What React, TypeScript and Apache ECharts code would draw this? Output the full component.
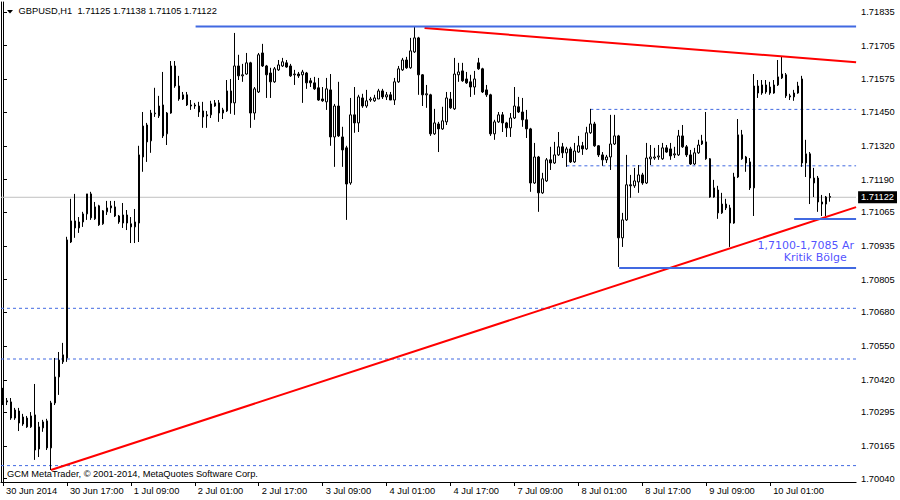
import React, { useEffect, useRef } from 'react';
import * as echarts from 'echarts';

// ---- OHLC data (GBPUSD H1, 30 Jun 2014 01:00 -> 10 Jul 2014 16:00) ----
const opens = [
  1.70373, 1.70339, 1.70335, 1.70304, 1.70300, 1.70250, 1.70273, 1.70239, 1.70285, 1.70154,
  1.70235, 1.70262, 1.70158, 1.70331, 1.70431, 1.70489, 1.70504, 1.70950, 1.71031, 1.71004,
  1.71027, 1.71058, 1.71135, 1.71039, 1.71089, 1.71020, 1.71066, 1.71081, 1.71085, 1.71050,
  1.71023, 1.71054, 1.71020, 1.71008, 1.71023, 1.71277, 1.71400, 1.71339, 1.71443, 1.71435,
  1.71477, 1.71366, 1.71446, 1.71627, 1.71550, 1.71500, 1.71516, 1.71477, 1.71473, 1.71473,
  1.71454, 1.71439, 1.71439, 1.71473, 1.71485, 1.71446, 1.71454, 1.71531, 1.71485, 1.71627,
  1.71589, 1.71596, 1.71639, 1.71446, 1.71527, 1.71677, 1.71627, 1.71600, 1.71566, 1.71612,
  1.71627, 1.71639, 1.71627, 1.71593, 1.71596, 1.71593, 1.71600, 1.71570, 1.71562, 1.71543,
  1.71500, 1.71489, 1.71535, 1.71354, 1.71473, 1.71354, 1.71312, 1.71177, 1.71439, 1.71408,
  1.71504, 1.71473, 1.71496, 1.71493, 1.71500, 1.71531, 1.71508, 1.71516, 1.71496, 1.71566,
  1.71612, 1.71650, 1.71620, 1.71681, 1.71735, 1.71593, 1.71516, 1.71516, 1.71366, 1.71404,
  1.71385, 1.71412, 1.71500, 1.71462, 1.71593, 1.71608, 1.71577, 1.71566, 1.71546, 1.71639,
  1.71616, 1.71535, 1.71516, 1.71366, 1.71412, 1.71439, 1.71408, 1.71389, 1.71427, 1.71470,
  1.71450, 1.71420, 1.71385, 1.71177, 1.71277, 1.71139, 1.71185, 1.71266, 1.71254, 1.71285,
  1.71316, 1.71293, 1.71308, 1.71258, 1.71296, 1.71320, 1.71308, 1.71370, 1.71404, 1.71320,
  1.71285, 1.71266, 1.71277, 1.71327, 1.71358, 1.70966, 1.71035, 1.71170, 1.71166, 1.71181,
  1.71208, 1.71177, 1.71270, 1.71273, 1.71277, 1.71270, 1.71312, 1.71308, 1.71285, 1.71285,
  1.71358, 1.71316, 1.71285, 1.71250, 1.71293, 1.71327, 1.71335, 1.71270, 1.71123, 1.71150,
  1.71062, 1.71096, 1.71081, 1.71023, 1.71200, 1.71362, 1.71277, 1.71258, 1.71158, 1.71550,
  1.71523, 1.71554, 1.71546, 1.71523, 1.71554, 1.71581, 1.71593, 1.71512, 1.71508, 1.71523,
  1.71577, 1.71254, 1.71289, 1.71177, 1.71196, 1.71096, 1.71096, 1.71125,
];
const highs = [
  1.70389, 1.70350, 1.70350, 1.70312, 1.70312, 1.70289, 1.70281, 1.70296, 1.70404, 1.70258,
  1.70266, 1.70270, 1.70339, 1.70504, 1.70527, 1.70562, 1.70970, 1.71116, 1.71135, 1.71046,
  1.71066, 1.71135, 1.71143, 1.71104, 1.71093, 1.71073, 1.71108, 1.71108, 1.71108, 1.71054,
  1.71100, 1.71073, 1.71046, 1.71077, 1.71320, 1.71450, 1.71408, 1.71458, 1.71543, 1.71512,
  1.71604, 1.71450, 1.71646, 1.71646, 1.71589, 1.71527, 1.71527, 1.71496, 1.71485, 1.71489,
  1.71489, 1.71454, 1.71493, 1.71496, 1.71496, 1.71466, 1.71573, 1.71577, 1.71754, 1.71670,
  1.71635, 1.71677, 1.71643, 1.71546, 1.71677, 1.71712, 1.71631, 1.71620, 1.71623, 1.71650,
  1.71658, 1.71650, 1.71635, 1.71612, 1.71604, 1.71612, 1.71604, 1.71581, 1.71585, 1.71581,
  1.71546, 1.71581, 1.71596, 1.71481, 1.71566, 1.71393, 1.71320, 1.71504, 1.71546, 1.71516,
  1.71520, 1.71535, 1.71508, 1.71516, 1.71539, 1.71539, 1.71527, 1.71527, 1.71581, 1.71627,
  1.71658, 1.71662, 1.71735, 1.71777, 1.71739, 1.71596, 1.71554, 1.71520, 1.71462, 1.71412,
  1.71470, 1.71527, 1.71527, 1.71658, 1.71639, 1.71639, 1.71604, 1.71593, 1.71608, 1.71658,
  1.71620, 1.71554, 1.71520, 1.71420, 1.71450, 1.71450, 1.71412, 1.71446, 1.71546, 1.71508,
  1.71504, 1.71458, 1.71389, 1.71331, 1.71281, 1.71216, 1.71273, 1.71316, 1.71335, 1.71373,
  1.71331, 1.71316, 1.71316, 1.71331, 1.71358, 1.71335, 1.71393, 1.71462, 1.71412, 1.71323,
  1.71296, 1.71285, 1.71439, 1.71439, 1.71362, 1.71062, 1.71285, 1.71208, 1.71235, 1.71246,
  1.71216, 1.71331, 1.71323, 1.71312, 1.71323, 1.71331, 1.71323, 1.71331, 1.71316, 1.71381,
  1.71400, 1.71323, 1.71304, 1.71312, 1.71343, 1.71362, 1.71450, 1.71273, 1.71189, 1.71166,
  1.71139, 1.71116, 1.71093, 1.71216, 1.71423, 1.71381, 1.71281, 1.71273, 1.71596, 1.71573,
  1.71573, 1.71573, 1.71566, 1.71573, 1.71650, 1.71662, 1.71600, 1.71520, 1.71535, 1.71566,
  1.71589, 1.71343, 1.71296, 1.71235, 1.71204, 1.71131, 1.71127, 1.71138,
];
const lows = [
  1.70323, 1.70323, 1.70266, 1.70266, 1.70223, 1.70243, 1.70235, 1.70235, 1.70112, 1.70123,
  1.70220, 1.70150, 1.70073, 1.70323, 1.70362, 1.70481, 1.70489, 1.70946, 1.70966, 1.70985,
  1.71008, 1.71035, 1.71035, 1.71035, 1.71012, 1.71016, 1.71054, 1.71062, 1.71046, 1.71020,
  1.71004, 1.70996, 1.70946, 1.70946, 1.70950, 1.71220, 1.71258, 1.71293, 1.71431, 1.71427,
  1.71350, 1.71323, 1.71443, 1.71543, 1.71493, 1.71496, 1.71473, 1.71458, 1.71462, 1.71431,
  1.71389, 1.71389, 1.71427, 1.71470, 1.71412, 1.71423, 1.71450, 1.71443, 1.71439, 1.71573,
  1.71566, 1.71593, 1.71389, 1.71420, 1.71523, 1.71623, 1.71504, 1.71504, 1.71562, 1.71608,
  1.71623, 1.71620, 1.71585, 1.71554, 1.71581, 1.71485, 1.71539, 1.71546, 1.71535, 1.71493,
  1.71489, 1.71458, 1.71320, 1.71239, 1.71354, 1.71239, 1.71035, 1.71170, 1.71370, 1.71373,
  1.71466, 1.71466, 1.71489, 1.71489, 1.71500, 1.71500, 1.71496, 1.71496, 1.71477, 1.71562,
  1.71608, 1.71616, 1.71616, 1.71677, 1.71516, 1.71473, 1.71466, 1.71358, 1.71362, 1.71296,
  1.71381, 1.71400, 1.71462, 1.71458, 1.71566, 1.71566, 1.71558, 1.71508, 1.71516, 1.71612,
  1.71523, 1.71508, 1.71358, 1.71343, 1.71408, 1.71373, 1.71354, 1.71354, 1.71423, 1.71446,
  1.71393, 1.71350, 1.71143, 1.71173, 1.71066, 1.71135, 1.71181, 1.71227, 1.71250, 1.71281,
  1.71273, 1.71239, 1.71254, 1.71254, 1.71293, 1.71285, 1.71304, 1.71366, 1.71316, 1.71277,
  1.71243, 1.71254, 1.71227, 1.71323, 1.70854, 1.70931, 1.71031, 1.71120, 1.71158, 1.71139,
  1.71170, 1.71173, 1.71246, 1.71266, 1.71266, 1.71266, 1.71293, 1.71266, 1.71273, 1.71281,
  1.71312, 1.71277, 1.71246, 1.71246, 1.71289, 1.71323, 1.71266, 1.71120, 1.71120, 1.71039,
  1.71058, 1.71073, 1.70931, 1.71020, 1.71196, 1.71266, 1.71220, 1.71150, 1.71050, 1.71504,
  1.71516, 1.71520, 1.71516, 1.71520, 1.71550, 1.71577, 1.71504, 1.71496, 1.71493, 1.71520,
  1.71239, 1.71200, 1.71096, 1.71123, 1.71066, 1.71050, 1.71050, 1.71105,
];
const closes = [
  1.70339, 1.70335, 1.70273, 1.70273, 1.70254, 1.70277, 1.70239, 1.70281, 1.70150, 1.70239,
  1.70258, 1.70158, 1.70331, 1.70431, 1.70496, 1.70516, 1.70958, 1.71031, 1.71004, 1.71027,
  1.71058, 1.71135, 1.71043, 1.71085, 1.71016, 1.71070, 1.71081, 1.71089, 1.71050, 1.71027,
  1.71054, 1.71023, 1.71008, 1.71027, 1.71285, 1.71396, 1.71335, 1.71446, 1.71446, 1.71473,
  1.71358, 1.71446, 1.71627, 1.71550, 1.71500, 1.71516, 1.71477, 1.71473, 1.71477, 1.71450,
  1.71431, 1.71435, 1.71481, 1.71485, 1.71446, 1.71458, 1.71531, 1.71485, 1.71627, 1.71589,
  1.71593, 1.71639, 1.71446, 1.71539, 1.71670, 1.71627, 1.71593, 1.71566, 1.71616, 1.71631,
  1.71643, 1.71623, 1.71589, 1.71596, 1.71589, 1.71604, 1.71562, 1.71562, 1.71539, 1.71496,
  1.71493, 1.71539, 1.71354, 1.71473, 1.71358, 1.71304, 1.71173, 1.71439, 1.71408, 1.71508,
  1.71473, 1.71493, 1.71500, 1.71504, 1.71531, 1.71508, 1.71516, 1.71496, 1.71566, 1.71616,
  1.71650, 1.71620, 1.71685, 1.71735, 1.71593, 1.71516, 1.71520, 1.71366, 1.71408, 1.71385,
  1.71416, 1.71504, 1.71466, 1.71596, 1.71604, 1.71570, 1.71562, 1.71546, 1.71577, 1.71616,
  1.71527, 1.71516, 1.71366, 1.71412, 1.71439, 1.71408, 1.71389, 1.71427, 1.71473, 1.71450,
  1.71420, 1.71385, 1.71177, 1.71277, 1.71139, 1.71193, 1.71266, 1.71254, 1.71285, 1.71316,
  1.71293, 1.71308, 1.71258, 1.71300, 1.71320, 1.71308, 1.71370, 1.71404, 1.71320, 1.71285,
  1.71266, 1.71277, 1.71327, 1.71358, 1.70966, 1.71035, 1.71170, 1.71166, 1.71185, 1.71208,
  1.71177, 1.71273, 1.71277, 1.71277, 1.71281, 1.71312, 1.71296, 1.71281, 1.71289, 1.71358,
  1.71316, 1.71285, 1.71250, 1.71293, 1.71323, 1.71339, 1.71270, 1.71123, 1.71158, 1.71062,
  1.71096, 1.71081, 1.71023, 1.71200, 1.71362, 1.71270, 1.71254, 1.71158, 1.71550, 1.71523,
  1.71554, 1.71527, 1.71523, 1.71554, 1.71585, 1.71596, 1.71512, 1.71508, 1.71523, 1.71550,
  1.71254, 1.71289, 1.71196, 1.71196, 1.71104, 1.71104, 1.71123, 1.71122,
];

// ---- axes ----
const slotCount = 214; // bars + empty right shift
const tickEvery = 16;
const xTickLabels = [
  '30 Jun 2014', '30 Jun 17:00', '1 Jul 09:00', '2 Jul 01:00', '2 Jul 17:00', '3 Jul 09:00',
  '4 Jul 01:00', '4 Jul 17:00', '7 Jul 09:00', '8 Jul 01:00', '8 Jul 17:00', '9 Jul 09:00', '10 Jul 01:00',
];
const yTickValues = [
  1.70040, 1.70165, 1.70295, 1.70420, 1.70550, 1.70680, 1.70805, 1.70935,
  1.71065, 1.71190, 1.71320, 1.71450, 1.71575, 1.71705, 1.71835,
];
const yMin = 1.70027;
const yMax = 1.71873;
const xMin = -0.5;
const xMax = 213.5;

// ---- texts ----
const headerText = 'GBPUSD,H1  1.71125 1.71138 1.71105 1.71122';
const copyrightText = 'GCM MetaTrader, \u00a9 2001-2014, MetaQuotes Software Corp.';
const currentPrice = 1.71122;

// ---- drawn objects: [fromBar, fromPrice, toBar, toPrice] ----
const redTrendLines = [
  [12, 1.70073, 213.5, 1.71084],
  [105.5, 1.71773, 213.5, 1.71641],
];
const blueSolidLevels = [
  [48.2, 1.71779],
  [154.2, 1.70850],
  [198, 1.71038],
];
const blueDashedLevels = [
  [-0.5, 1.70695],
  [-0.5, 1.70500],
  [-0.5, 1.70090],
  [147, 1.71460],
  [141, 1.71243],
];
const annotations = [
  { text: '1,7100-1,7085 Ar', bar: 188.7, price: 1.70937, side: 'right' },
  { text: 'Kritik Bölge', bar: 211.3, price: 1.70889, side: 'left' },
];

const FONT = '"Liberation Sans", Arial, sans-serif';
const FS = 9.3;
const BLUE = '#4169E1';

export default function App() {
  const ref = useRef<HTMLDivElement>(null);

  useEffect(() => {
    if (!ref.current) return;
    const chart = echarts.init(ref.current, undefined, { renderer: 'svg' });

    const categories = Array.from({ length: slotCount }, (_, i) => String(i));
    const candleData = opens.map((o, i) => [o, closes[i], lows[i], highs[i]]);
    const lastLabelIdx = (xTickLabels.length - 1) * tickEvery;
    const showTick = (idx: number) => idx % tickEvery === 0 && idx <= lastLabelIdx;

    const lineSeries: any[] = [];
    redTrendLines.forEach((l) => {
      lineSeries.push({
        type: 'line', xAxisIndex: 1, yAxisIndex: 0, symbol: 'none', silent: true, z: 4,
        data: [[l[0], l[1]], [l[2], l[3]]],
        lineStyle: { color: '#ff0000', width: 2 },
      });
    });
    blueSolidLevels.forEach((l) => {
      lineSeries.push({
        type: 'line', xAxisIndex: 1, yAxisIndex: 0, symbol: 'none', silent: true, z: 4,
        data: [[l[0], l[1]], [xMax, l[1]]],
        lineStyle: { color: BLUE, width: 2 },
      });
    });
    blueDashedLevels.forEach((l) => {
      lineSeries.push({
        type: 'line', xAxisIndex: 1, yAxisIndex: 0, symbol: 'none', silent: true, z: 1,
        data: [[l[0], l[1]], [xMax, l[1]]],
        lineStyle: { color: BLUE, width: 1, type: [3, 3] },
      });
    });

    const option: any = {
      animation: false,
      backgroundColor: '#ffffff',
      grid: { left: 1, right: 43, top: 2, bottom: 18, containLabel: false },
      xAxis: [
        {
          type: 'category',
          data: categories,
          boundaryGap: true,
          axisLine: { show: true, lineStyle: { color: '#000', width: 1 } },
          axisTick: { show: true, alignWithLabel: true, interval: (idx: number) => showTick(idx), length: 4, lineStyle: { color: '#000' } },
          axisLabel: {
            show: true,
            interval: (idx: number) => showTick(idx),
            formatter: (_v: string, idx: number) => xTickLabels[idx / tickEvery] || '',
            align: 'left',
            padding: [0, 0, 0, 3],
            margin: 4,
            fontSize: FS,
            fontFamily: FONT,
            color: '#000',
          },
          splitLine: { show: false },
        },
        { type: 'value', min: xMin, max: xMax, show: false },
      ],
      yAxis: [
        {
          type: 'value',
          position: 'right',
          min: yMin,
          max: yMax,
          axisLine: { show: true, lineStyle: { color: '#000', width: 1 } },
          axisTick: { show: true, customValues: yTickValues, length: 4, lineStyle: { color: '#000' } },
          axisLabel: {
            show: true,
            customValues: yTickValues,
            formatter: (v: number) => v.toFixed(5),
            margin: 5,
            fontSize: FS,
            fontFamily: FONT,
            color: '#000',
          },
          splitLine: { show: false },
        },
        {
          type: 'value',
          position: 'left',
          min: yMin,
          max: yMax,
          axisLine: { show: true, onZero: false, lineStyle: { color: '#000', width: 1 } },
          axisTick: { show: false },
          axisLabel: { show: false },
          splitLine: { show: false },
        },
        {
          type: 'value',
          position: 'right',
          min: yMin,
          max: yMax,
          axisLine: { show: false },
          axisTick: { show: false },
          splitLine: { show: false },
          axisLabel: {
            show: true,
            customValues: [currentPrice],
            formatter: (v: number) => v.toFixed(5),
            margin: 2,
            fontSize: FS,
            fontFamily: FONT,
            color: '#fff',
            backgroundColor: '#000',
            padding: [2, 3, 1, 3],
          },
        },
      ],
      series: [
        {
          type: 'line',
          name: 'bid',
          xAxisIndex: 1,
          yAxisIndex: 0,
          symbol: 'none',
          silent: true,
          z: 1,
          data: [[xMin, currentPrice], [xMax, currentPrice]],
          lineStyle: { color: '#c0c0c0', width: 1 },
        },
        {
          type: 'candlestick',
          xAxisIndex: 0,
          yAxisIndex: 0,
          z: 2,
          silent: true,
          barWidth: 2,
          data: candleData,
          itemStyle: {
            color: '#ffffff',
            color0: '#000000',
            borderColor: '#000000',
            borderColor0: '#000000',
            borderWidth: 1,
          },
        },
        ...lineSeries,
        {
          type: 'scatter',
          xAxisIndex: 1,
          yAxisIndex: 0,
          silent: true,
          z: 5,
          symbolSize: 1,
          itemStyle: { color: 'rgba(0,0,0,0)' },
          data: annotations.map((a) => ({
            value: [a.bar, a.price],
            label: {
              show: true,
              formatter: a.text,
              position: a.side,
              distance: 0,
              color: '#2323ff',
              fontSize: 11,
              lineHeight: 11,
              fontFamily: '"DejaVu Sans", sans-serif',
            },
          })),
        },
      ],
      graphic: [
        {
          type: 'polygon',
          shape: { points: [[7, 10], [13, 10], [10, 13.5]] },
          style: { fill: '#000' },
          silent: true,
        },
        {
          type: 'text',
          x: 18.5,
          y: 10.5,
          style: { text: headerText, fill: '#000', font: `${FS}px ${FONT}`, verticalAlign: 'middle', align: 'left' },
          silent: true,
        },
        {
          type: 'text',
          x: 7,
          y: 474,
          style: { text: copyrightText, fill: '#000', font: `${FS}px ${FONT}`, verticalAlign: 'middle', align: 'left' },
          silent: true,
        },
      ],
    };

    chart.setOption(option);
    return () => chart.dispose();
  }, []);

  return (
    <div
      ref={ref}
      style={{ position: 'fixed', left: 0, top: 0, width: 900, height: 500, background: '#fff' }}
    />
  );
}
